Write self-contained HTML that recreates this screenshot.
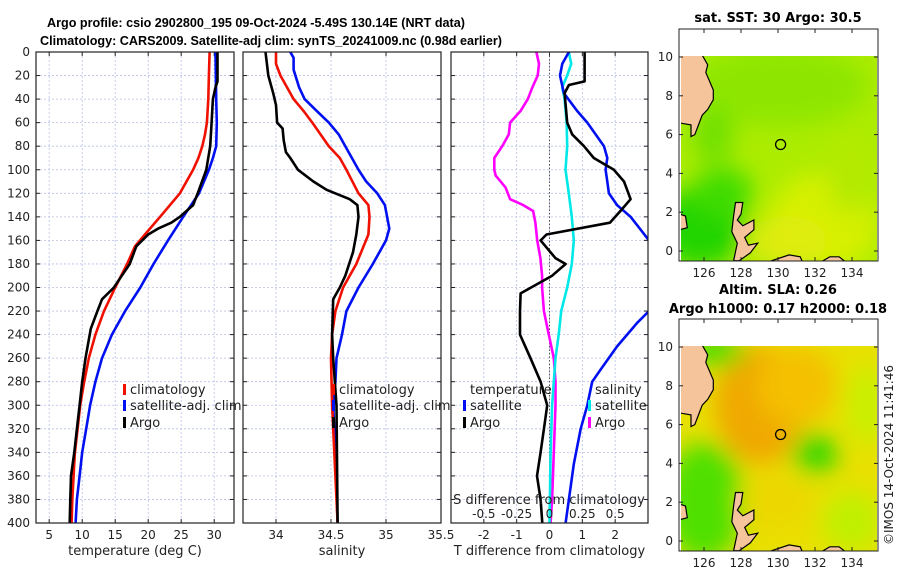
<!DOCTYPE html>
<html><head><meta charset="utf-8"><style>
html,body{margin:0;padding:0;background:#fff;}
svg{display:block;font-family:"DejaVu Sans","Liberation Sans",sans-serif;}
</style></head><body>
<svg id="fig" width="900" height="580" viewBox="0 0 900 580" xmlns="http://www.w3.org/2000/svg">
<text x="256" y="27" font-family="Liberation Sans, sans-serif" font-size="12.6" font-weight="bold" text-anchor="middle">Argo profile: csio 2902800_195 09-Oct-2024 -5.49S 130.14E (NRT data)</text>
<text x="271" y="45" font-family="Liberation Sans, sans-serif" font-size="12.6" font-weight="bold" text-anchor="middle">Climatology: CARS2009. Satellite-adj clim: synTS_20241009.nc (0.98d earlier)</text>
<g id="panels"></g>
<g id="maps"></g>
<text transform="translate(893,455) rotate(-90)" font-size="12" text-anchor="middle" fill="#222">©IMOS 14-Oct-2024 11:41:46</text>
</svg>
<script>
// ---------- data ----------
var depthsTclim=[0,20,40,60,70,80,90,100,120,140,155,165,180,200,220,240,260,280,300,320,340,360,380,400];
var tempClim=[29.3,29.2,29.1,28.9,28.6,28.2,27.6,26.8,24.8,21.8,19.5,18,16.8,15,13.3,12,11,10.3,9.7,9.3,8.9,8.7,8.5,8.4];
var depthsTsat=[0,40,60,80,90,100,120,140,160,180,200,220,240,260,280,300,320,340,360,380,400];
var tempSat=[30.2,30.3,30.4,30.3,29.8,29.2,27.7,25.3,23,20.8,18.8,16.5,14.5,13,12,11.2,10.6,10,9.6,9.2,9.0];
var depthsTargo=[0,25,30,40,60,80,100,120,130,140,145,150,155,165,180,190,200,210,220,235,260,280,300,320,340,360,380,400];
var tempArgo=[30.5,30.5,30.2,29.8,29.6,29.4,28.8,27.5,26.8,24.8,23.5,21.5,20,18.2,17.2,16,14.8,13,12.3,11.3,10.5,10,9.6,9.2,8.8,8.3,8.2,8.1];

var depthsSargo=[0,20,35,45,60,65,75,85,90,100,110,117,125,130,140,155,170,190,200,210,240,260,300,400];
var salArgo=[33.905,33.93,33.975,34.0,34.01,34.06,34.07,34.09,34.13,34.2,34.34,34.46,34.67,34.74,34.75,34.73,34.70,34.63,34.58,34.52,34.51,34.52,34.55,34.56];
var depthsSclim=[0,10,20,30,40,50,60,80,90,100,120,130,140,155,180,200,220,240,260,300,400];
var salClim=[34.0,34.0,34.04,34.1,34.16,34.25,34.33,34.48,34.58,34.64,34.75,34.84,34.85,34.84,34.73,34.61,34.54,34.51,34.5,34.51,34.56];
var depthsSsat=[0,5,15,30,40,50,60,70,80,100,110,120,130,150,160,180,200,220,240,260,280,300,340,400];
var salSat=[34.13,34.16,34.16,34.21,34.26,34.37,34.48,34.57,34.63,34.75,34.82,34.92,34.99,35.03,35.0,34.88,34.75,34.64,34.6,34.55,34.54,34.52,34.54,34.56];

var depthsDTargo=[0,25,28,35,60,70,80,90,100,110,125,135,145,155,160,175,180,190,205,220,240,260,280,300,310,340,360,380,400];
var dTargo=[1.07,1.07,0.59,0.46,0.54,0.69,1.05,1.35,1.96,2.27,2.47,2.16,1.84,-0.09,-0.27,0.18,0.49,0.08,-0.88,-0.9,-0.9,-0.58,-0.27,-0.07,-0.12,-0.27,-0.38,-0.27,-0.22];
var depthsDTsat=[0,5,10,20,35,50,60,80,90,100,110,120,130,140,160,175,200,220,230,250,270,280,300,320,350,380,400];
var dTsat=[0.59,0.49,0.39,0.32,0.44,0.84,1.15,1.66,1.76,1.71,1.76,1.81,2.06,2.47,3.03,3.6,3.6,3.03,2.67,2.06,1.55,1.30,1.15,0.95,0.74,0.59,0.49];
var depthsDSsat=[0,10,20,30,40,60,80,100,120,140,160,180,200,220,240,260,280,300,340,400];
var dSsat=[0.147,0.165,0.135,0.097,0.115,0.13,0.135,0.122,0.147,0.17,0.185,0.17,0.135,0.089,0.07,0.046,0.033,0.02,0.008,0];
var depthsDSargo=[0,10,20,30,40,50,60,70,80,90,100,105,115,125,130,135,145,160,175,190,200,220,240,260,280,300,340,380,400];
var dSargo=[-0.1,-0.08,-0.09,-0.13,-0.165,-0.22,-0.30,-0.31,-0.36,-0.42,-0.42,-0.41,-0.335,-0.30,-0.20,-0.125,-0.107,-0.094,-0.069,-0.056,-0.056,-0.043,-0.005,0.033,0.046,0.046,0.033,0.02,0.008];

var depthTicks=[0,20,40,60,80,100,120,140,160,180,200,220,240,260,280,300,320,340,360,380,400];
var tempTicks=[5,10,15,20,25,30];
var salTicks=[34,34.5,35,35.5];
var dTTicks=[-2,-1,0,1,2];
var dSTicks=[-0.5,-0.25,0,0.25,0.5];
var dSTickLabels=["-0.5","-0.25","0","0.25","0.5"];
var latTicks=[0,2,4,6,8,10];
var lonTicks=[126,128,130,132,134];

// ---------- helpers ----------
var NS="http://www.w3.org/2000/svg";
function mk(tag,attrs,parent,txt){var e=document.createElementNS(NS,tag);for(var k in attrs)e.setAttribute(k,attrs[k]);if(txt!==undefined)e.textContent=txt;parent.appendChild(e);return e;}
var P=document.getElementById('panels');
var Y0=52,Y1=523;
function yD(d){return Y0+(d/400)*(Y1-Y0);}
function scale(d0,d1,r0,r1){return function(v){return r0+(v-d0)/(d1-d0)*(r1-r0);};}

var panels=[
 {name:'temperature',x0:36,x1:234,sx:scale(3,33,36,234),ticks:tempTicks,labels:tempTicks.map(String),xlabel:'temperature (deg C)'},
 {name:'salinity',x0:243,x1:441,sx:scale(33.7,35.5,243,441),ticks:salTicks,labels:["34","34.5","35","35.5"],xlabel:'salinity'},
 {name:'difference',x0:451,x1:648,sx:scale(-3,3,451,648),ticks:dTTicks,labels:dTTicks.map(String),xlabel:'T difference from climatology'}
];

panels.forEach(function(p,pi){
  var g=mk('g',{},P);
  
  
  var cid='clip'+pi;
  var cp=mk('clipPath',{id:cid},g);mk('rect',{x:p.x0,y:Y0,width:p.x1-p.x0,height:Y1-Y0},cp);
  depthTicks.forEach(function(d){
    if(d>0&&d<400){var l=mk('line',{x1:p.x0,x2:p.x1,y1:yD(d),y2:yD(d),stroke:'#b8bfe6','stroke-width':0.8,'stroke-dasharray':'2,2'},g);
    }
    mk('line',{x1:p.x0,x2:p.x0+4,y1:yD(d),y2:yD(d),stroke:'#222'},g);
    mk('line',{x1:p.x1,x2:p.x1-4,y1:yD(d),y2:yD(d),stroke:'#222'},g);
  });
  p.ticks.forEach(function(t,i){
    var x=p.sx(t);
    if(x>p.x0+1&&x<p.x1-1){var l=mk('line',{x1:x,x2:x,y1:Y0,y2:Y1,stroke:'#b8bfe6','stroke-width':0.8,'stroke-dasharray':'2,2'},g);
    }
    mk('line',{x1:x,x2:x,y1:Y1,y2:Y1-4,stroke:'#222'},g);
    mk('line',{x1:x,x2:x,y1:Y0,y2:Y0+4,stroke:'#222'},g);
    var tl=mk('text',{x:x,y:Y1+16,'font-size':12,'text-anchor':'middle',fill:'#222'},g,p.labels[i]);
    
  });
  if(pi===0){
    depthTicks.forEach(function(d){var t=mk('text',{x:30,y:yD(d)+4,'font-size':12,'text-anchor':'end',fill:'#222'},g,String(d));
    });
  }
  var xl=mk('text',{x:(p.x0+p.x1)/2,y:Y1+32,'font-size':13,'text-anchor':'middle',fill:'#222'},g,p.xlabel);
  
  p.g=g;p.clip='url(#'+cid+')';
});

function line(p,ds,vs,fn,color,name,w){
  var pts=ds.map(function(d,i){return fn(vs[i]).toFixed(1)+','+yD(d).toFixed(1);}).join(' ');
  var pl=mk('polyline',{points:pts,fill:'none',stroke:color,'stroke-width':w||2.6,'stroke-linejoin':'round','clip-path':p.clip},p.g);
  
  
}
var p0=panels[0],p1=panels[1],p2=panels[2];
line(p0,depthsTsat,tempSat,p0.sx,'#0010f0','temp-satellite-line');
line(p0,depthsTclim,tempClim,p0.sx,'#f01000','temp-climatology-line');
line(p0,depthsTargo,tempArgo,p0.sx,'#000','temp-argo-line');
line(p1,depthsSsat,salSat,p1.sx,'#0010f0','salinity-satellite-line');
line(p1,depthsSclim,salClim,p1.sx,'#f01000','salinity-climatology-line');
line(p1,depthsSargo,salArgo,p1.sx,'#000','salinity-argo-line');
var z=mk('line',{x1:p2.sx(0),x2:p2.sx(0),y1:Y0,y2:Y1,stroke:'#555','stroke-width':1,'stroke-dasharray':'1.5,2'},p2.g);

function sS(v){return p2.sx(v*4);}
line(p2,depthsDSargo,dSargo,sS,'#ff00ff','s-diff-argo-line');
line(p2,depthsDSsat,dSsat,sS,'#00e8e8','s-diff-satellite-line');
line(p2,depthsDTsat,dTsat,p2.sx,'#0010f0','t-diff-satellite-line');
line(p2,depthsDTargo,dTargo,p2.sx,'#000','t-diff-argo-line');
var sl=mk('text',{x:549,y:504,'font-size':13,'text-anchor':'middle',fill:'#222'},p2.g,'S difference from climatology');

dSTicks.forEach(function(t,i){var tx=mk('text',{x:sS(t),y:518,'font-size':12,'text-anchor':'middle',fill:'#222'},p2.g,dSTickLabels[i]);
});
panels.forEach(function(p){var r=mk('rect',{x:p.x0,y:Y0,width:p.x1-p.x0,height:Y1-Y0,fill:'none',stroke:'#222','stroke-width':1.2},p.g);
});

function legend(g,x,y,color,label,name){
  var r=mk('rect',{x:x-7,y:y-10,width:3,height:11,fill:color},g);
  
  var t=mk('text',{x:x,y:y,'font-size':13,fill:'#222'},g,label);
  
}
[[p0.g,130],[p1.g,339]].forEach(function(a,i){
  var lg=mk('g',{},a[0]);
  legend(lg,a[1],394,'#f01000','climatology','legend-climatology');
  legend(lg,a[1],410,'#0010f0','satellite-adj. clim','legend-satellite');
  legend(lg,a[1],427,'#000','Argo','legend-argo');
});
var lg3=mk('g',{},p2.g);
var lt=mk('text',{x:470,y:394,'font-size':13,fill:'#222'},lg3,'temperature');
legend(lg3,470,410,'#0010f0','satellite','legend-t-satellite');
legend(lg3,470,427,'#000','Argo','legend-t-argo');
var ls=mk('text',{x:595,y:394,'font-size':13,fill:'#222'},lg3,'salinity');
legend(lg3,595,410,'#00e8e8','satellite','legend-s-satellite');
legend(lg3,595,427,'#ff00ff','Argo','legend-s-argo');

// ---------- maps ----------
var M=document.getElementById('maps');
var defs=mk('defs',{},M);
var f=mk('filter',{id:'blur',x:'-50%',y:'-50%',width:'200%',height:'200%'},defs);mk('feGaussianBlur',{stdDeviation:12},f);
function lonX(l){return 704+(l-126)*18.5;}
var landA=[[124.7,10.1],[125.9,10.1],[126.2,9.6],[126.1,9.2],[126.5,8.3],[126.5,7.8],[126.2,7.3],[125.9,7.0],[125.7,6.5],[125.5,6.0],[125.3,5.9],[125.3,6.5],[124.7,6.6]];
var landB=[[127.7,2.5],[128.1,2.5],[128.0,1.9],[127.8,1.6],[128.1,1.3],[128.7,1.6],[128.7,1.1],[128.2,0.7],[128.4,0.3],[128.9,0.4],[128.5,-0.1],[127.9,-0.5],[127.6,-0.5],[127.8,0.4],[127.5,1.0],[127.6,1.8]];
var landC=[[132.4,-0.52],[132.8,-0.3],[133.3,-0.3],[133.6,-0.52]];
var landD=[[129.6,-0.52],[130.6,-0.2],[131.2,-0.3],[131.3,-0.52]];
var landE=[[124.7,1.9],[125.0,1.8],[125.1,1.2],[124.7,1.1]];
function drawMap(name,top,title1,title2,blobs,base){
  var g=mk('g',{},M);
  
  
  var y0=top, y1=top+232, latY=function(l){return top+222-l*19.4;};
  var cid='mc'+top;var cp=mk('clipPath',{id:cid},g);mk('rect',{x:681,y:latY(10.05),width:196,height:y1-latY(10.05)},cp);
  var inner=mk('g',{'clip-path':'url(#'+cid+')'},g);
  mk('rect',{x:679,y:latY(10.05),width:200,height:240,fill:base},inner);
  var bg=mk('g',{filter:'url(#blur)'},inner);
  blobs.forEach(function(b){mk('ellipse',{cx:lonX(b[0]),cy:latY(b[1]),rx:b[2],ry:b[3],fill:b[4]},bg);});
  [landA,landB,landC,landD,landE].forEach(function(L){
    var pts=L.map(function(q){return lonX(q[0]).toFixed(1)+','+latY(q[1]).toFixed(1);}).join(' ');
    var pg=mk('polygon',{points:pts,fill:'#f6c49a',stroke:'#000','stroke-width':1.2},inner);
    
  });
  var mk1=mk('circle',{cx:lonX(130.14),cy:latY(5.49),r:5,fill:'none',stroke:'#000','stroke-width':1.3},g);
  
  var fr=mk('rect',{x:679,y:y0,width:199,height:232,fill:'none',stroke:'#222','stroke-width':1},g);
  
  latTicks.forEach(function(l){
    var y=latY(l);mk('line',{x1:679,x2:683,y1:y,y2:y,stroke:'#222'},g);mk('line',{x1:878,x2:874,y1:y,y2:y,stroke:'#222'},g);
    var t=mk('text',{x:673,y:y+4,'font-size':12,'text-anchor':'end',fill:'#222'},g,String(l));
    
  });
  lonTicks.forEach(function(l){
    var x=lonX(l);mk('line',{x1:x,x2:x,y1:y1,y2:y1-4,stroke:'#222'},g);mk('line',{x1:x,x2:x,y1:y0,y2:y0+4,stroke:'#222'},g);
    var t=mk('text',{x:x,y:y1+16,'font-size':12,'text-anchor':'middle',fill:'#222'},g,String(l));
    
  });
  if(title2){
    var a=mk('text',{x:778,y:top-25,'font-size':13,'font-weight':'bold','text-anchor':'middle'},g,title1);
    var b=mk('text',{x:778,y:top-6,'font-size':13,'font-weight':'bold','text-anchor':'middle'},g,title2);
  } else {
    var c=mk('text',{x:778,y:top-7,'font-size':13,'font-weight':'bold','text-anchor':'middle'},g,title1);
  }
}
drawMap('sst-map',29,'sat. SST: 30 Argo: 30.5',null,[
 [125.8,1.2,45,40,'#22d400'],[127,3,30,25,'#40dc00'],[130,8.5,90,40,'#8ee600'],[132.5,1.5,55,50,'#d6f000'],[130.5,0.5,40,25,'#e0ec10'],[126.5,6,20,30,'#70e000'],[134,4,25,40,'#b4ea00']
],'#acec00');
drawMap('sla-map',319,'Altim. SLA: 0.26','Argo h1000: 0.17 h2000: 0.18',[
 [129,7,45,60,'#f0a800'],[131,8,40,40,'#f4c000'],[132,4.5,22,20,'#30d800'],[126,2,40,60,'#50e000'],[126.6,9.8,30,15,'#40dc00'],[134.8,7,20,40,'#c8f000'],[134,1,30,30,'#c0f000'],[130,2,40,30,'#ecd800']
],'#e8e000');
</script>
</body></html>
